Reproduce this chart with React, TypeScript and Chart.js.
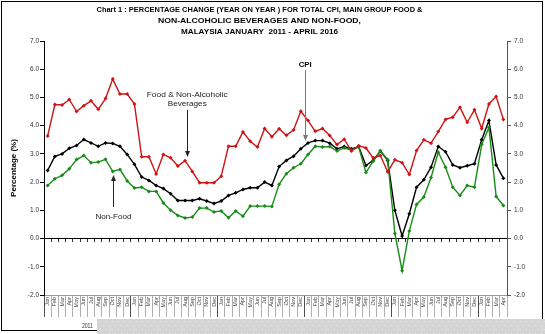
import React, { useEffect, useRef } from 'react';
import { Chart, registerables } from 'chart.js';

Chart.register(...registerables);

// ---------- data ----------
const MONTHS = ['Jan', 'Feb', 'Mar', 'Apr', 'May', 'Jun', 'Jul', 'Aug', 'Sep', 'Oct', 'Nov', 'Dec'];
const YEARS = ['2011', '2012', '2013', '2014', '2015', '2016'];
const N_MONTHS = 64; // Jan 2011 - Apr 2016

const FOOD = [
  3.63, 4.75, 4.73, 4.93, 4.50, 4.71, 4.88, 4.58, 4.96, 5.65, 5.12, 5.12,
  4.77, 2.90, 2.90, 2.29, 2.98, 2.86, 2.57, 2.76, 2.38, 1.98, 1.98, 1.98,
  2.21, 3.27, 3.27, 3.78, 3.45, 3.24, 3.90, 3.61, 3.89, 3.66, 3.85, 4.51,
  4.18, 3.80, 3.90, 3.65, 3.33, 3.52, 3.10, 3.29, 3.21, 2.86, 2.94, 2.37,
  2.79, 2.69, 2.27, 3.12, 3.50, 3.38, 3.79, 4.22, 4.30, 4.65, 4.12, 4.56,
  3.90, 4.77, 5.03, 4.22,
];
const CPI = [
  2.41, 2.91, 3.00, 3.20, 3.30, 3.51, 3.39, 3.27, 3.39, 3.37, 3.27, 2.98,
  2.63, 2.18, 2.06, 1.88, 1.77, 1.59, 1.35, 1.35, 1.35, 1.41, 1.33, 1.24,
  1.33, 1.53, 1.62, 1.74, 1.80, 1.80, 2.00, 1.88, 2.55, 2.77, 2.92, 3.18,
  3.39, 3.47, 3.47, 3.38, 3.18, 3.26, 3.18, 3.26, 2.59, 2.77, 3.10, 2.77,
  1.00, 0.09, 0.88, 1.82, 2.08, 2.53, 3.26, 3.08, 2.61, 2.51, 2.58, 2.65,
  3.50, 4.18, 2.61, 2.14,
];
const NON_FOOD = [
  1.88, 2.12, 2.24, 2.47, 2.80, 2.94, 2.69, 2.71, 2.81, 2.38, 2.45, 2.04,
  1.79, 1.82, 1.67, 1.67, 1.26, 1.00, 0.82, 0.73, 0.76, 1.08, 1.08, 0.94,
  0.98, 0.74, 0.98, 0.79, 1.15, 1.15, 1.15, 1.14, 1.92, 2.30, 2.51, 2.65,
  2.98, 3.27, 3.24, 3.26, 3.10, 3.21, 3.14, 3.24, 2.34, 2.74, 3.11, 2.80,
  0.18, -1.14, 0.27, 1.21, 1.47, 2.16, 3.06, 2.53, 1.82, 1.53, 1.88, 1.82,
  3.33, 3.94, 1.49, 1.17,
];

const Y_MIN = -2;
const Y_MAX = 7;
const Y_STEP = 1;

const TITLE_LINES = [
  'Chart 1 : PERCENTAGE CHANGE (YEAR ON YEAR ) FOR TOTAL CPI, MAIN GROUP FOOD &',
  'NON-ALCOHOLIC BEVERAGES AND NON-FOOD,',
  'MALAYSIA JANUARY  2011 - APRIL 2016',
];
const Y_TITLE = 'Percentage (%)';

const LABELS: string[] = [];
YEARS.forEach((yr) => MONTHS.forEach((m) => LABELS.push(m)));
LABELS.length = N_MONTHS;

// annotation anchors in data space (category index, value)
const ANNOTATIONS = [
  { lines: ['Food & Non-Alcoholic', 'Beverages'], widths: [81, 39], idx: 19.3, textV: [5.09, 4.76], from: 4.56, to: 2.89, bold: false, arrowColor: '#222' },
  { lines: ['Non-Food'], widths: [36], idx: 9.1, textV: [0.76], from: 1.12, to: 2.25, bold: false, arrowColor: '#222' },
  { lines: ['CPI'], widths: [13], idx: 35.6, textV: [6.15], from: 5.97, to: 3.46, bold: true, arrowColor: '#777' },
];

const RED = '#cc1414';
const GREEN = '#168c16';
const BLACK = '#000000';
const FONT = '"Liberation Sans", "DejaVu Sans", sans-serif';

function fitText(ctx: CanvasRenderingContext2D, text: string, cx: number, cy: number, w: number, font: string, color: string) {
  ctx.save();
  ctx.font = font;
  ctx.fillStyle = color;
  ctx.textAlign = 'center';
  ctx.textBaseline = 'middle';
  const m = ctx.measureText(text).width || 1;
  ctx.translate(cx, cy);
  ctx.scale(w / m, 1);
  ctx.fillText(text, 0, 0);
  ctx.restore();
}

function arrow(ctx: CanvasRenderingContext2D, x: number, y1: number, y2: number, color: string) {
  const dir = y2 > y1 ? 1 : -1;
  ctx.save();
  ctx.strokeStyle = color;
  ctx.fillStyle = color;
  ctx.lineWidth = 1;
  ctx.beginPath();
  ctx.moveTo(x, y1);
  ctx.lineTo(x, y2 - dir * 4);
  ctx.stroke();
  ctx.beginPath();
  ctx.moveTo(x, y2);
  ctx.lineTo(x - 2.5, y2 - dir * 6);
  ctx.lineTo(x + 2.5, y2 - dir * 6);
  ctx.closePath();
  ctx.fill();
  ctx.restore();
}

const decorPlugin = {
  id: 'decor',
  afterDraw(chart: any) {
    const ctx: CanvasRenderingContext2D = chart.ctx;
    const xs = chart.scales.x;
    const ys = chart.scales.y;

    // title
    const titleY = [10, 21.3, 32];
    const titleW = [326, 203, 157];
    TITLE_LINES.forEach((t, i) => fitText(ctx, t, 259.5, titleY[i], titleW[i], `bold 7.5px ${FONT}`, '#000'));

    // annotations
    ANNOTATIONS.forEach((a) => {
      const x = xs.getPixelForValue(a.idx);
      a.lines.forEach((ln, i) =>
        fitText(ctx, ln, x, ys.getPixelForValue(a.textV[i]), a.widths[i], `${a.bold ? 'bold ' : ''}7.5px ${FONT}`, a.bold ? '#000' : '#222')
      );
      arrow(ctx, Math.round(x) + 0.5, ys.getPixelForValue(a.from), ys.getPixelForValue(a.to), a.arrowColor);
    });

    // frame
    ctx.save();
    ctx.strokeStyle = '#000';
    ctx.lineWidth = 1;
    ctx.strokeRect(1.5, 1.5, 541, 329);
    // gray dotted band at the bottom
    ctx.fillStyle = '#d4d4d4';
    ctx.fillRect(97, 319, 448, 15);
    ctx.fillStyle = '#ebebeb';
    for (let yy = 321; yy < 334; yy += 4) {
      for (let xx = 99 + ((yy / 4) % 2) * 3; xx < 545; xx += 6) ctx.fillRect(xx, yy, 1, 1);
    }
    // year label
    const yc = (xs.getPixelForValue(0) + xs.getPixelForValue(11)) / 2;
    fitText(ctx, YEARS[0], yc, 326.5, 11, `6.5px ${FONT}`, '#333');
    ctx.restore();
  },
};

export default function App() {
  const ref = useRef<HTMLCanvasElement | null>(null);

  useEffect(() => {
    document.body.style.margin = '0';
    const canvas = ref.current;
    if (!canvas) return;
    const chart = new Chart(canvas, {
      type: 'line',
      data: {
        labels: LABELS,
        datasets: [
          { label: 'Food & Non-Alcoholic Beverages', data: FOOD, borderColor: RED, backgroundColor: RED, borderWidth: 1.4, pointStyle: 'rectRot', pointRadius: 2, pointBorderWidth: 0, tension: 0 },
          { label: 'Non-Food', data: NON_FOOD, borderColor: GREEN, backgroundColor: GREEN, borderWidth: 1.4, pointStyle: 'rectRot', pointRadius: 2, pointBorderWidth: 0, tension: 0 },
          { label: 'CPI', data: CPI, borderColor: BLACK, backgroundColor: BLACK, borderWidth: 1.4, pointStyle: 'rectRot', pointRadius: 2, pointBorderWidth: 0, tension: 0 },
        ],
      },
      options: {
        responsive: false,
        animation: false,
        events: [],
        layout: { padding: { top: 41, bottom: 16, left: 0, right: 0 } },
        plugins: { legend: { display: false }, title: { display: false }, tooltip: { enabled: false } },
        scales: {
          x: {
            type: 'category',
            offset: true,
            position: 'bottom',
            grid: {
              display: true,
              drawOnChartArea: false,
              drawTicks: true,
              tickLength: 22,
              offset: true,
              color: (c: any) => (c.index % 12 === 0 ? '#222' : '#9a9a9a'),
              lineWidth: 0.8,
            },
            border: { display: true, color: '#9a9a9a' },
            ticks: {
              autoSkip: false,
              maxRotation: 90,
              minRotation: 90,
              padding: -20,
              font: { size: 5.5, family: FONT },
              color: '#444',
            },
            afterFit: (s: any) => { s.height = 23; },
          },
          x2: {
            type: 'category',
            axis: 'x',
            offset: true,
            position: { y: 0 },
            grid: { display: true, drawOnChartArea: false, drawTicks: true, tickLength: 3, offset: true, color: '#000', lineWidth: 0.8 },
            border: { display: true, color: '#000', width: 1 },
            ticks: { display: false },
            afterFit: (s: any) => { s.height = 0; },
          },
          y: {
            type: 'linear',
            position: 'left',
            min: Y_MIN,
            max: Y_MAX,
            ticks: {
              stepSize: Y_STEP,
              callback: (v: any) => Number(v).toFixed(1),
              font: { size: 6.5, family: FONT },
              color: '#333',
              padding: 1,
            },
            grid: { drawOnChartArea: false, drawTicks: true, tickLength: 4, color: '#000' },
            border: { display: true, color: '#000', width: 1 },
            title: { display: true, text: Y_TITLE, font: { size: 8, weight: 'bold', family: FONT }, color: '#000', padding: { top: 9, bottom: 0 } },
            afterFit: (s: any) => { s.width = 44; },
          },
          y2: {
            type: 'linear',
            position: 'right',
            min: Y_MIN,
            max: Y_MAX,
            ticks: {
              stepSize: Y_STEP,
              callback: (v: any) => Number(v).toFixed(1),
              font: { size: 6.5, family: FONT },
              color: '#333',
              padding: 3,
            },
            grid: { drawOnChartArea: false, drawTicks: true, tickLength: 4, color: '#555' },
            border: { display: true, color: '#555', width: 1 },
            afterFit: (s: any) => { s.width = 38; },
          },
        },
      } as any,
      plugins: [decorPlugin],
    });
    return () => chart.destroy();
  }, []);

  return (
    <div style={{ width: 545, height: 334, position: 'relative', background: '#fff' }}>
      <canvas ref={ref} width={545} height={334} style={{ display: 'block' }} />
    </div>
  );
}
